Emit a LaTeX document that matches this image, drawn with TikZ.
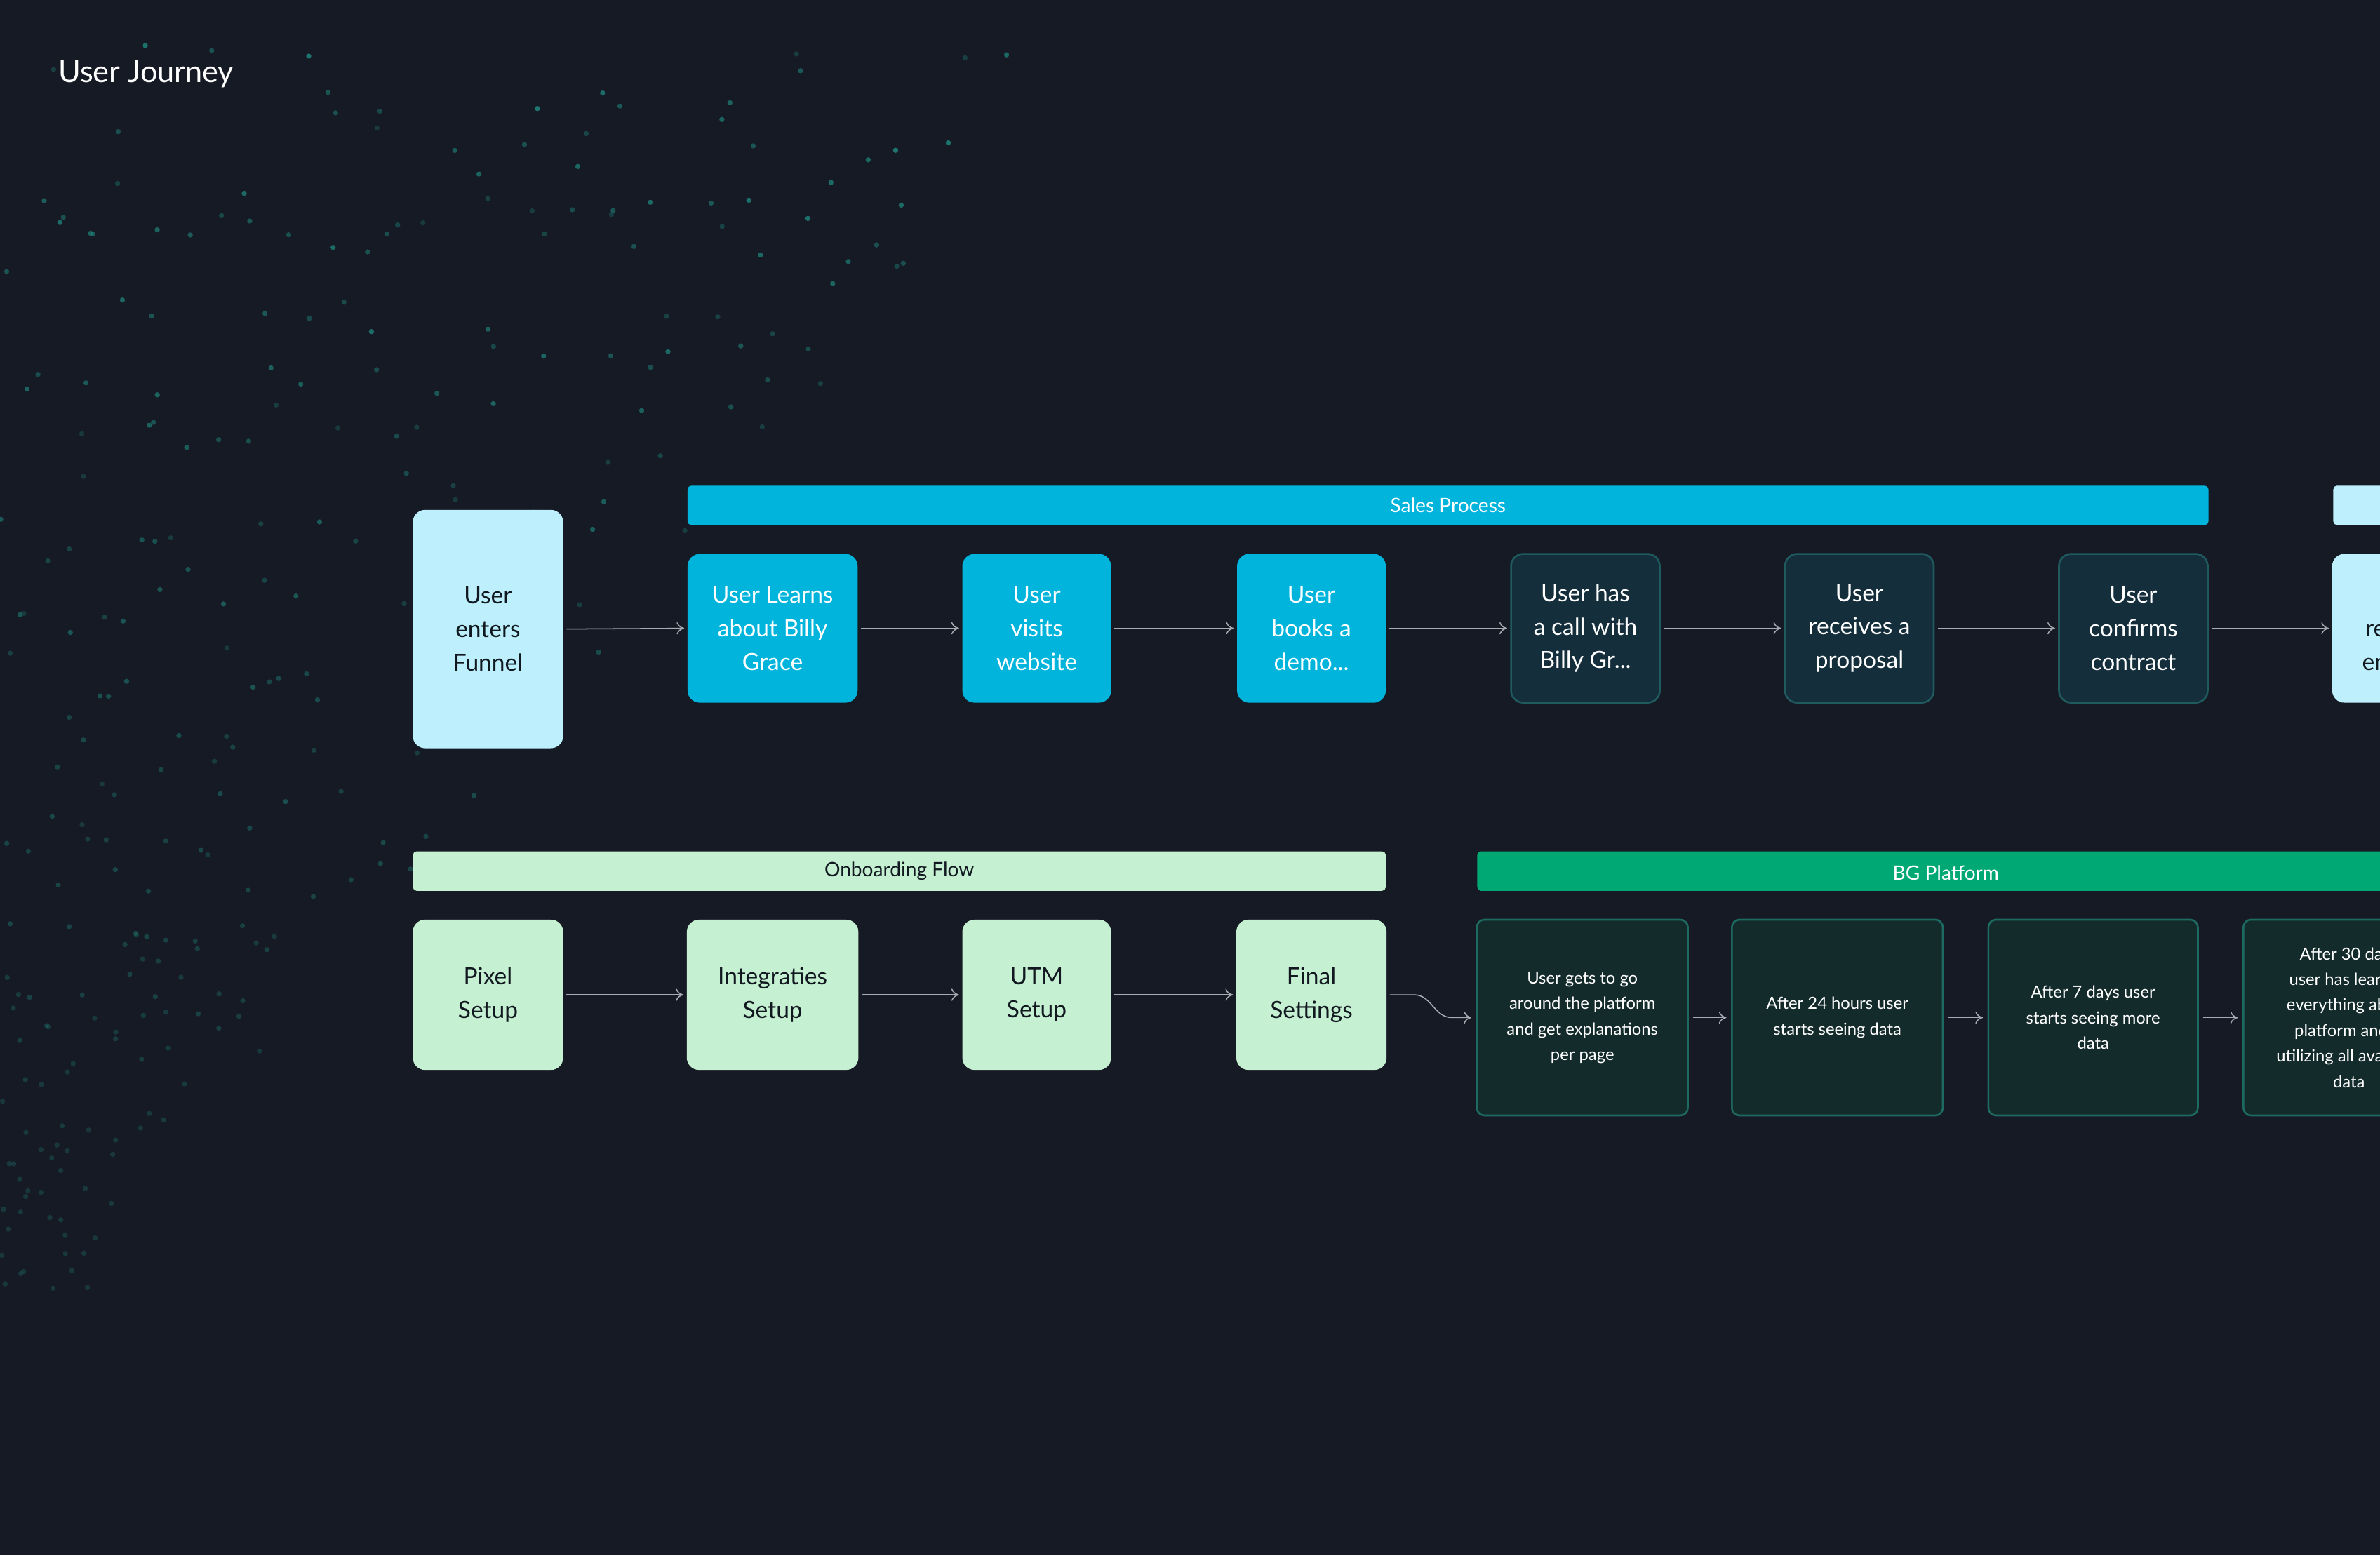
\documentclass[tikz,border=0pt]{standalone}
\usepackage{fontspec}
\setmainfont{Lato}
\usetikzlibrary{arrows.meta}
\definecolor{bg}{HTML}{161A24}
\definecolor{lcyan}{HTML}{BDF0FC}
\definecolor{cyanb}{HTML}{00B4DC}
\definecolor{dnavy}{HTML}{142E3C}
\definecolor{dteal}{HTML}{1E5A5E}
\definecolor{lgreen}{HTML}{C6F0D2}
\definecolor{gbar}{HTML}{00A873}
\definecolor{dgreen}{HTML}{142B2C}
\definecolor{gteal}{HTML}{1C6A60}
\definecolor{dotc}{HTML}{1F8078}
\definecolor{txtd}{HTML}{111820}
\definecolor{arr}{HTML}{A8ABB3}
\begin{document}
\begin{tikzpicture}[x=1pt,y=-1pt,
  box/.style={rounded corners=8pt,inner sep=0pt,align=center,font=\fontsize{15.5}{22}\selectfont},
  lc/.style={box,fill=lcyan,text=txtd},
  cy/.style={box,fill=cyanb,text=white},
  dn/.style={box,fill=dnavy,draw=dteal,line width=1.2pt,text=white},
  lg/.style={box,fill=lgreen,text=txtd},
  dg/.style={box,rounded corners=5pt,fill=dgreen,draw=gteal,line width=1.2pt,text=white,font=\fontsize{11}{16.8}\selectfont},
  bar/.style={rounded corners=2.5pt,inner sep=0pt,font=\fontsize{13}{15}\selectfont},
  con/.style={draw=arr,line width=0.7pt,-{To[length=5pt,width=8pt]}}]
\useasboundingbox (0,0) rectangle (1568,1025);
\clip (0,0) rectangle (1568,1025);
\fill[bg] (0,0) rectangle (1568,1025);
\pgfmathsetseed{7}
\foreach \i in {1,...,280}{
  \pgfmathsetmacro{\yy}{30+rnd*820}
  \pgfmathsetmacro{\xx}{rnd*max(60,(760-0.85*\yy))}
  \pgfmathsetmacro{\op}{0.3+0.7*rnd*max(0,1-\yy/750)}
  \fill[dotc,opacity=\op] (\xx,\yy) circle (1.7);
}
\node[anchor=west,text=white,font=\fontsize{20}{24}\selectfont] (title) at (35,49) {User Journey};
% row 1
\node[bar,fill=cyanb,text=white,minimum width=1002,minimum height=26] (sales) at (954,333) {Sales Process};
\node[bar,fill=lcyan,minimum width=100,minimum height=26,anchor=west] (bar2) at (1537,333) {};
\node[lc,minimum width=99,minimum height=157] (n0) at (321.5,414.5) {User\\enters\\Funnel};
\node[cy,minimum width=112,minimum height=98] (n1) at (509,414) {User Learns\\about Billy\\Grace};
\node[cy,minimum width=98,minimum height=98] (n2) at (683,414) {User\\visits\\website};
\node[cy,minimum width=98,minimum height=98] (n3) at (864,414) {User\\books a\\demo...};
\node[dn,minimum width=98,minimum height=98] (n4) at (1044.5,414) {User has\\a call with\\Billy Gr...};
\node[dn,minimum width=98,minimum height=98] (n5) at (1225,414) {User\\receives a\\proposal};
\node[dn,minimum width=98,minimum height=98] (n6) at (1405.5,414) {User\\confirms\\contract};
\node[lc,minimum width=99,minimum height=98] (n7) at (1586,414) {User\\receives\\entrance};
\foreach \a/\b in {n0/n1,n1/n2,n2/n3,n3/n4,n4/n5,n5/n6,n6/n7}
  \draw[con] ([xshift=2pt]\a.east) -- ([xshift=-2pt]\b.west);
% row 2
\node[bar,fill=lgreen,text=txtd,minimum width=641,minimum height=26] (onb) at (592.5,574) {Onboarding Flow};
\node[bar,fill=gbar,text=white,minimum width=617,minimum height=26,anchor=west] (bgp) at (973,574) {};
\node[text=white,font=\fontsize{13}{15}\selectfont] (bgpt) at (1282,575) {BG Platform};
\node[lg,minimum width=99,minimum height=99] (m1) at (321.5,655.5) {Pixel\\Setup};
\node[lg,minimum width=113,minimum height=99] (m2) at (509,655.5) {Integraties\\Setup};
\node[lg,minimum width=98,minimum height=99] (m3) at (683,655.5) {UTM\\Setup};
\node[lg,minimum width=99,minimum height=99] (m4) at (864,655.5) {Final\\Settings};
\node[dg,minimum width=139,minimum height=129] (p1) at (1042.5,670.5) {User gets to go\\around the platform\\and get explanations\\per page};
\node[dg,minimum width=139,minimum height=129] (p2) at (1210.5,670.5) {After 24 hours user\\starts seeing data};
\node[dg,minimum width=138,minimum height=129] (p3) at (1379,670.5) {After 7 days user\\starts seeing more\\data};
\node[dg,minimum width=139,minimum height=129] (p4) at (1547.5,670.5) {After 30 days\\user has learned\\everything about\\platform and is\\utilizing all available\\data};
\foreach \a/\b in {m1/m2,m2/m3,m3/m4}
  \draw[con] ([xshift=2pt]\a.east) -- ([xshift=-2pt]\b.west);
\foreach \a/\b in {p1/p2,p2/p3,p3/p4}
  \draw[con] ([xshift=3pt]\a.east) -- ([xshift=-3pt]\b.west);
\draw[con] ([xshift=2pt]m4.east) -- ++(16,0) to[out=0,in=180] ([xshift=-16pt]p1.west) -- ([xshift=-3pt]p1.west);
\end{tikzpicture}
\end{document}
